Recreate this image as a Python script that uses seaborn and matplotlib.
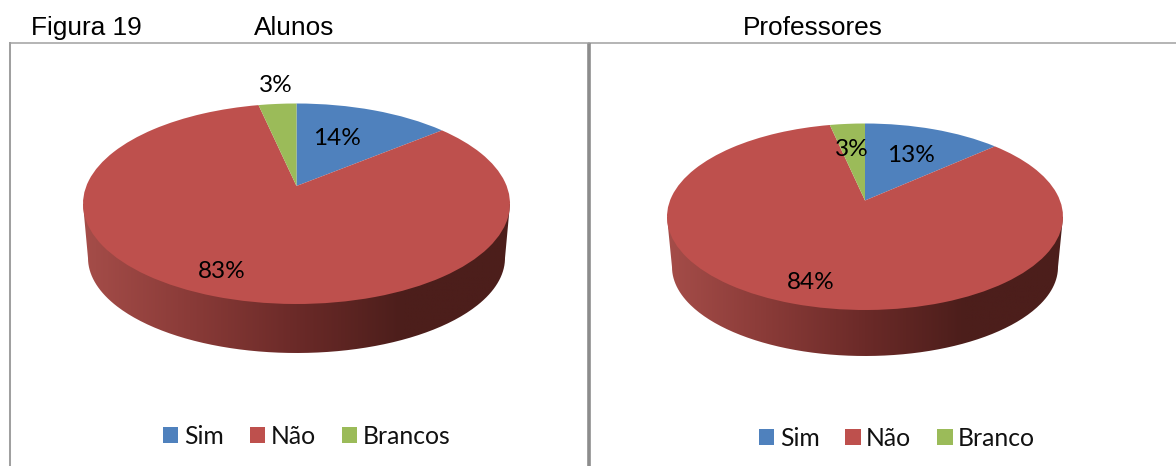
import numpy as np
import seaborn as sns
import matplotlib
matplotlib.use("Agg")
import matplotlib.pyplot as plt
from matplotlib.colors import LinearSegmentedColormap
from matplotlib.path import Path
from matplotlib.patches import PathPatch, Patch
from matplotlib.transforms import Transform

# data
categories_alunos = ["Sim", "Não", "Brancos"]
categories_professores = ["Sim", "Não", "Branco"]
values_alunos = [14.0, 82.6, 3.4]
values_professores = [13.4, 83.6, 3.4]
panel_titles = ["Alunos", "Professores"]
figure_label = "Figura 19"
slice_colors = ["#4F81BD", "#BE504D", "#9BBB59"]
wall_colors = ["#A54D49", "#8A3B38", "#6B2A28", "#4C1E1B", "#4C1E1B"]

sns.set_theme(style="white")
plt.rcParams["font.family"] = ["Lato", "DejaVu Sans"]
W, H = 1176, 466
fig = plt.figure(figsize=(W / 100, H / 100), dpi=100, facecolor="white")
wall_cmap = LinearSegmentedColormap.from_list("wall", wall_colors)


class Perspective(Transform):
    """Tilted view of the unit-circle pie: its centre lands above the ellipse centre."""
    input_dims = output_dims = 2

    def __init__(self, cx, ymid, rx, ry, lift):
        super().__init__()
        self.cx, self.ymid, self.rx, self.ry = cx, ymid, rx, ry
        self.k = lift / ry
        self.a = rx * np.sqrt(1 - self.k ** 2)

    def transform_non_affine(self, values):
        v = np.asarray(values, dtype=float)
        w = 1 + self.k * v[:, 1]
        return np.column_stack([self.cx + self.a * v[:, 0] / w,
                                self.ymid - self.ry * (v[:, 1] + self.k) / w])


def draw_panel(ax, box, values, names, title, title_xy, geom, label_xy, legend_xy, colspace):
    x0, x1 = box
    cx, ymid, rx, ry, lift, rxb, yb, ryb = geom
    wedges, _ = ax.pie(values, startangle=90, counterclock=False, colors=slice_colors,
                       radius=1, wedgeprops={"linewidth": 0, "zorder": 3})
    ax.set_aspect("auto")
    ax.set_frame_on(True)

    # side wall with a horizontal shading
    t = np.linspace(np.pi, 2 * np.pi, 200)
    vx = np.r_[cx - rx, cx + rxb * np.cos(t), cx + rx]
    vy = np.r_[ymid, yb - ryb * np.sin(t), ymid]
    wall = Path(np.column_stack([vx, vy]))
    grad = np.linspace(0, 1, 256).reshape(1, -1)
    im = ax.imshow(grad, cmap=wall_cmap, aspect="auto", zorder=2,
                   extent=(cx - rx, cx + rx, yb + ryb, ymid))
    clip = PathPatch(wall, transform=ax.transData, facecolor="none", edgecolor="none")
    ax.add_patch(clip)
    im.set_clip_path(clip)

    persp = Perspective(cx, ymid, rx, ry, lift)
    for w in wedges:
        w.set_transform(persp + ax.transData)

    ax.set_xlim(x0, x1)
    ax.set_ylim(H, 42.8)
    ax.set_xticks([])
    ax.set_yticks([])

    for v, (lx, ly) in zip(values, label_xy):
        ax.text(lx, ly, f"{v:.0f}%", ha="center", va="center", fontsize=17.6,
                color="black", zorder=5)
    ax.text(*title_xy, title, ha="center", va="center", fontsize=18.9,
            family="Liberation Sans", color="#000000", clip_on=False)
    handles = [Patch(facecolor=c, edgecolor="none", linewidth=0) for c in slice_colors]
    ax.legend(handles, names, ncol=3, frameon=False, fontsize=17.8,
              loc="center left", bbox_to_anchor=legend_xy,
              bbox_transform=ax.transData, handlelength=0.62, handleheight=0.62,
              handletextpad=0.22, columnspacing=colspace, borderpad=0, borderaxespad=0,
              labelcolor="#111111")


ax1 = fig.add_axes([9.7 / W, 0, (589 - 9.7) / W, 1 - 42.8 / H])
ax2 = fig.add_axes([589 / W, 0, (W - 589) / W, 1 - 42.8 / H])

draw_panel(ax1, (9.7, 589), values_alunos, categories_alunos, panel_titles[0], (294, 28.2),
           (296.5, 203.75, 213.5, 100.25, 17.75, 208.5, 258, 95),
           [(337, 138.5), (222, 271.5), (276, 86)], (163, 436), 1.06)
draw_panel(ax2, (589, W), values_professores, categories_professores, panel_titles[1], (812.5, 28.2),
           (865, 216.75, 198, 93.25, 16.25, 193, 267, 89),
           [(911, 155), (811, 282.5), (852, 150)], (759, 438), 1.05)

fig.text(31 / W, 1 - 28.2 / H, figure_label, ha="left", va="center", fontsize=18.9,
         family="Liberation Sans", color="#000000")

for ax in (ax1, ax2):
    ax.spines["bottom"].set_visible(False)
    ax.spines["top"].set_color("#A0A0A0")
    ax.spines["top"].set_linewidth(1.1)
ax1.spines["left"].set_color("#A0A0A0")
ax1.spines["left"].set_linewidth(1.45)
ax1.spines["right"].set_color("#8C8C8C")
ax1.spines["right"].set_linewidth(2.6)
ax1.spines["right"].set_capstyle("butt")
ax2.spines["left"].set_visible(False)
ax2.spines["right"].set_visible(False)
ax1.set_zorder(3)
ax1.patch.set_alpha(0)

fig.savefig("out.png", dpi=100, facecolor="white")
